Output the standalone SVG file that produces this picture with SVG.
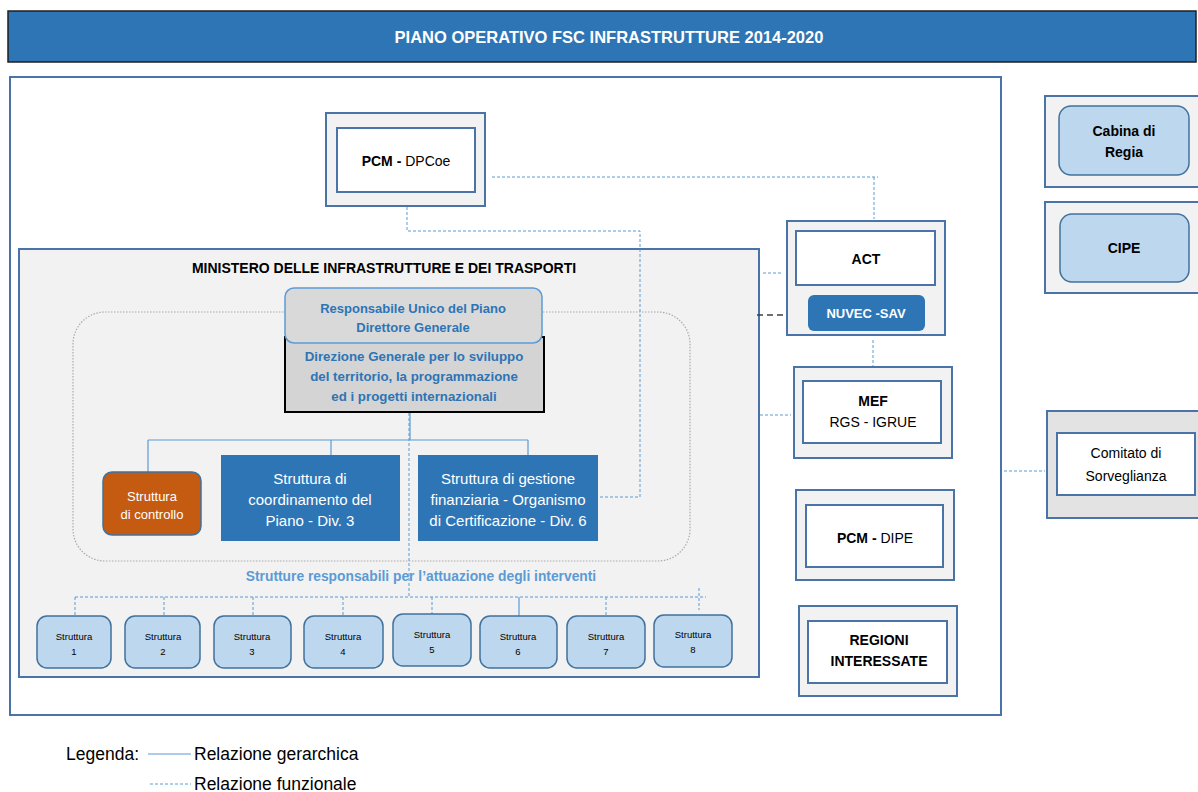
<svg xmlns="http://www.w3.org/2000/svg" width="1198" height="792" viewBox="0 0 1198 792">
<style>
text{font-family:"Liberation Sans",Arial,sans-serif;text-anchor:middle}
.b{font-weight:bold}
.frame{fill:#f2f2f2;stroke:#4a74a8;stroke-width:2}
.inner{fill:#fff;stroke:#4a74a8;stroke-width:2}
.lb{fill:#bdd7ee;stroke:#41719c;stroke-width:1.5}
.dash{fill:none;stroke:#5b9bd5;stroke-width:1;stroke-dasharray:3,2}
.solid{fill:none;stroke:#5b9bd5;stroke-width:1.2}
.blk{font-size:14px;fill:#000}
.wt{fill:#fff}
.st{font-size:9.5px;fill:#000}
.lg{font-size:17.5px;fill:#000;text-anchor:start}
</style>
<rect width="1198" height="792" fill="#fff"/>
<g id="title">
<rect x="8" y="11" width="1188" height="51" fill="#2e75b6" stroke="#1f1f1f" stroke-width="1.5"/>
<text x="609" y="43" class="b wt" font-size="16.5">PIANO OPERATIVO FSC INFRASTRUTTURE 2014-2020</text>
</g>
<rect x="10" y="77" width="991" height="638" fill="#fff" stroke="#4a74a8" stroke-width="2"/>
<g id="mit">
<rect x="19" y="249" width="740" height="428" class="frame"/>
<text x="384" y="273" class="b" font-size="14">MINISTERO DELLE INFRASTRUTTURE E DEI TRASPORTI</text>
<rect x="73" y="312" width="617" height="249" rx="32" fill="none" stroke="#aaa" stroke-width="1.2" stroke-dasharray="1.5,1.5"/>
<text x="421" y="581" class="b" font-size="13.8" fill="#5b9bd5">Strutture responsabili per l’attuazione degli interventi</text>
</g>
<g id="connectors">
<path class="dash" d="M492,177 H878 M874,177 V219"/>
<path class="dash" d="M407,207 V231 H640 V497 H599"/>
<path class="dash" d="M409,413 V598"/>
<path class="dash" d="M75,597 H706 M699,588 V610"/>
<path class="dash" d="M75,597 V616 M164,597 V616 M253,597 V616 M343,597 V616 M432,597 V614 M606,597 V616"/>
<path class="solid" d="M519,597 V616"/>
<path class="solid" d="M410,413 V440 M148,440 H528 M148,440 V472 M331,440 V455 M528,440 V455"/>
<path class="dash" d="M763,273 H783"/>
<path d="M757,315 H805" fill="none" stroke="#404040" stroke-width="1.5" stroke-dasharray="6,4"/>
<path class="dash" d="M873,340 V366"/>
<path class="dash" d="M760,415 H791"/>
<path class="dash" d="M1004,471 H1045"/>
</g>
<g id="pcm-dpcoe">
<rect x="326" y="113" width="159" height="93" class="frame"/>
<rect x="337" y="128" width="138" height="64" class="inner"/>
<text x="406" y="166" class="blk"><tspan class="b">PCM - </tspan>DPCoe</text>
</g>
<g id="responsabile">
<rect x="285" y="337" width="259" height="75" fill="#d4d4d4" stroke="#000" stroke-width="2"/>
<rect x="285" y="288" width="257" height="55" rx="9" fill="#d9d9d9" stroke="#5b9bd5" stroke-width="1.5"/>
<text x="413" y="313" class="b" font-size="13" fill="#2e74b5">Responsabile Unico del Piano</text>
<text x="413" y="332" class="b" font-size="13" fill="#2e74b5">Direttore Generale</text>
<text x="414" y="361" class="b" font-size="13.3" fill="#2e74b5">Direzione Generale per lo sviluppo</text>
<text x="414" y="381" class="b" font-size="13.3" fill="#2e74b5">del territorio, la programmazione</text>
<text x="414" y="401" class="b" font-size="13.3" fill="#2e74b5">ed i progetti internazionali</text>
</g>
<g id="controllo">
<rect x="103" y="472" width="98" height="63" rx="9" fill="#c55a11" stroke="#41719c" stroke-width="1.5"/>
<text x="152" y="501" class="wt" font-size="13">Struttura</text>
<text x="152" y="519" class="wt" font-size="13">di controllo</text>
</g>
<g id="coordinamento">
<rect x="221" y="455" width="179" height="86" fill="#2e75b6"/>
<text x="310" y="484" class="wt" font-size="15">Struttura di</text>
<text x="310" y="505" class="wt" font-size="15">coordinamento del</text>
<text x="310" y="526" class="wt" font-size="15">Piano - Div. 3</text>
</g>
<g id="gestione">
<rect x="418" y="455" width="180" height="86" fill="#2e75b6"/>
<text x="508" y="484" class="wt" font-size="15">Struttura di gestione</text>
<text x="508" y="505" class="wt" font-size="15">finanziaria - Organismo</text>
<text x="508" y="526" class="wt" font-size="15">di Certificazione - Div. 6</text>
</g>
<g id="s1"><rect x="37" y="616" width="74" height="52" rx="10" class="lb"/><text x="74" y="640" class="st">Struttura</text><text x="74" y="655" class="st">1</text></g>
<g id="s2"><rect x="125" y="616" width="75" height="52" rx="10" class="lb"/><text x="163" y="640" class="st">Struttura</text><text x="163" y="655" class="st">2</text></g>
<g id="s3"><rect x="214" y="616" width="77" height="52" rx="10" class="lb"/><text x="252" y="640" class="st">Struttura</text><text x="252" y="655" class="st">3</text></g>
<g id="s4"><rect x="304" y="616" width="79" height="52" rx="10" class="lb"/><text x="343" y="640" class="st">Struttura</text><text x="343" y="655" class="st">4</text></g>
<g id="s5"><rect x="393" y="614" width="78" height="52" rx="10" class="lb"/><text x="432" y="638" class="st">Struttura</text><text x="432" y="653" class="st">5</text></g>
<g id="s6"><rect x="480" y="616" width="77" height="52" rx="10" class="lb"/><text x="518" y="640" class="st">Struttura</text><text x="518" y="655" class="st">6</text></g>
<g id="s7"><rect x="567" y="616" width="78" height="52" rx="10" class="lb"/><text x="606" y="640" class="st">Struttura</text><text x="606" y="655" class="st">7</text></g>
<g id="s8"><rect x="654" y="615" width="78" height="52" rx="10" class="lb"/><text x="693" y="638" class="st">Struttura</text><text x="693" y="653" class="st">8</text></g>
<g id="act">
<rect x="787" y="221" width="158" height="114" class="frame"/>
<rect x="796" y="231" width="139" height="54" class="inner"/>
<text x="866" y="264" class="blk b">ACT</text>
<rect x="808" y="295" width="117" height="36" rx="6" fill="#2e75b6"/>
<text x="866" y="318" class="b wt" font-size="13">NUVEC -SAV</text>
</g>
<g id="mef">
<rect x="794" y="367" width="158" height="91" class="frame"/>
<rect x="803" y="381" width="138" height="62" class="inner"/>
<text x="873" y="406" class="blk b">MEF</text>
<text x="873" y="427" class="blk">RGS - IGRUE</text>
</g>
<g id="pcm-dipe">
<rect x="796" y="490" width="158" height="90" class="frame"/>
<rect x="806" y="505" width="137" height="62" class="inner"/>
<text x="875" y="543" class="blk"><tspan class="b">PCM - </tspan>DIPE</text>
</g>
<g id="regioni">
<rect x="799" y="606" width="158" height="90" class="frame"/>
<rect x="808" y="621" width="139" height="62" class="inner"/>
<text x="879" y="645" class="blk b">REGIONI</text>
<text x="879" y="666" class="blk b">INTERESSATE</text>
</g>
<g id="cabina">
<rect x="1045" y="96" width="160" height="91" class="frame"/>
<rect x="1059" y="106" width="130" height="69" rx="12" class="lb"/>
<text x="1124" y="136" class="blk b">Cabina di</text>
<text x="1124" y="157" class="blk b">Regia</text>
</g>
<g id="cipe">
<rect x="1045" y="202" width="160" height="91" class="frame"/>
<rect x="1060" y="214" width="129" height="68" rx="12" class="lb"/>
<text x="1124" y="253" class="blk b">CIPE</text>
</g>
<g id="comitato">
<rect x="1047" y="411" width="160" height="107" fill="#e3e3e3" stroke="#4a74a8" stroke-width="2"/>
<rect x="1057" y="433" width="138" height="62" class="inner"/>
<text x="1126" y="458" class="blk" font-size="15">Comitato di</text>
<text x="1126" y="481" class="blk" font-size="15">Sorveglianza</text>
</g>
<g id="legend">
<text x="66" y="760" class="lg">Legenda:</text>
<path class="solid" d="M148,754 H191"/>
<text x="194" y="760" class="lg">Relazione gerarchica</text>
<path class="dash" d="M150,784 H191"/>
<text x="194" y="790" class="lg">Relazione funzionale</text>
</g>
</svg>
